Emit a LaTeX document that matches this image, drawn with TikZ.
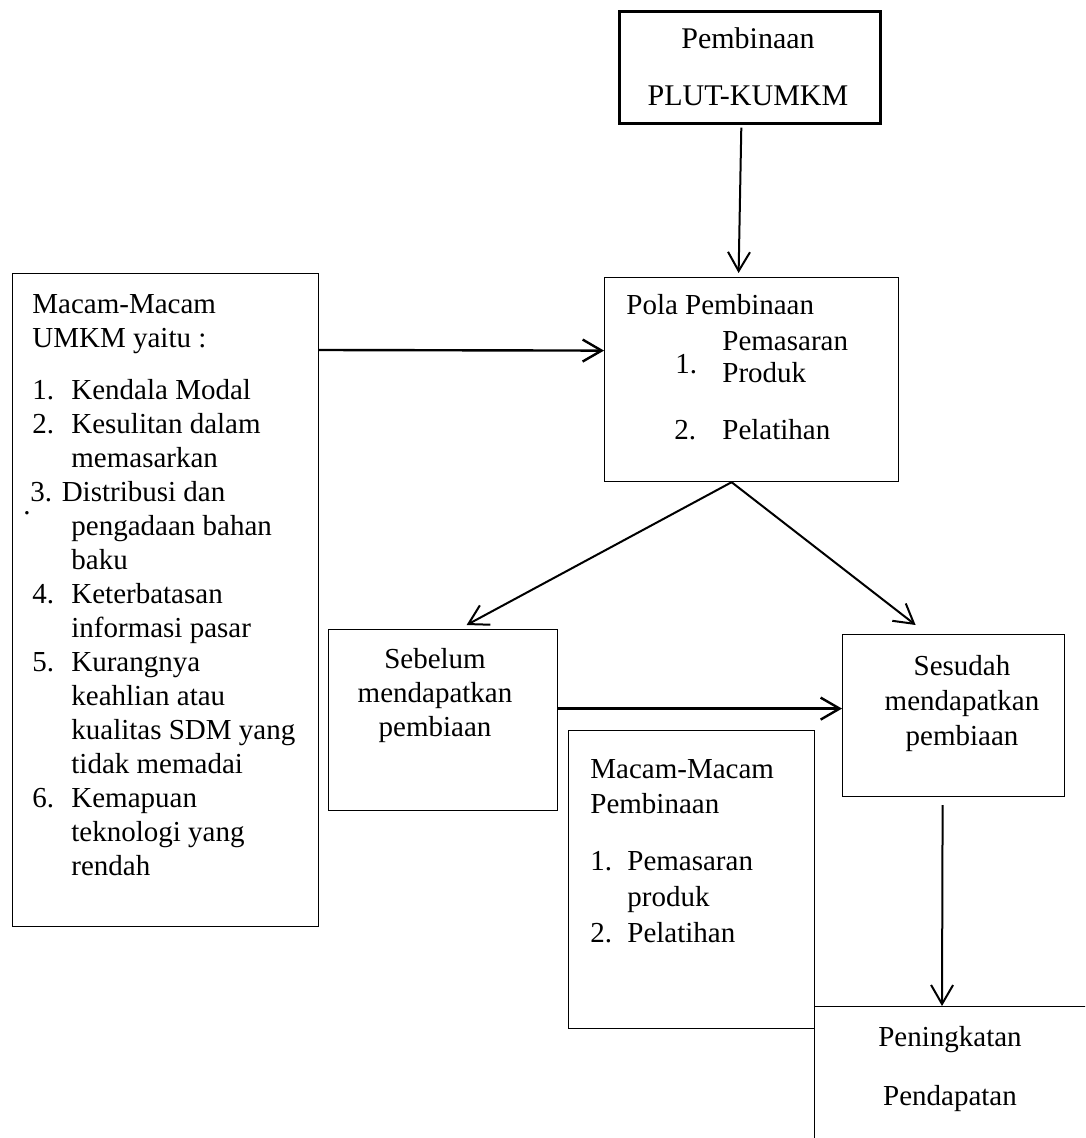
\documentclass[tikz,border=0pt]{standalone}
\usepackage{fontspec}
\setmainfont{Liberation Serif}
\usetikzlibrary{arrows.meta}
\newcommand{\itm}[2][19.5pt]{\makebox[#1][l]{#2}}

\begin{document}
\begin{tikzpicture}[x=0.5pt,y=-0.5pt,>={Straight Barb[length=9.5pt,width=11pt]},
box/.style={draw,line width=.6pt,inner sep=0pt,anchor=north west},
txt/.style={inner sep=0pt,anchor=base west,align=left,font=\fontsize{14.5}{17}\selectfont},
ctxt/.style={txt,anchor=base,align=center},
link/.style={->,line width=1pt}]
\useasboundingbox (0,0) rectangle (1085,1138);
\clip (0,0) rectangle (1085,1138);
% boxes
\node[box,line width=1.3pt,minimum width=130.5pt,minimum height=56pt] (A1) at (618,10) {};
\node[box,minimum width=147pt,minimum height=102pt] (B1) at (604,277) {};
\node[box,minimum width=153pt,minimum height=326.5pt] (C1) at (12,273) {};
\node[box,minimum width=114.5pt,minimum height=90.5pt] (D1) at (328,629) {};
\node[box,minimum width=111pt,minimum height=81pt] (D2) at (842,634) {};
\node[box,minimum width=123pt,minimum height=149pt] (E1) at (568,730) {};
\node[box,minimum width=150pt,minimum height=100pt] (F1) at (814,1006) {};
% texts (base = last line)
\node[ctxt,font=\fontsize{15}{28.5}\selectfont] (A1t) at (748,106) {Pembinaan\\PLUT-KUMKM};
\node[txt] (B1t) at (626,315) {Pola Pembinaan};
\node[txt] (B1n) at (675,373) {1.};
\node[txt,font=\fontsize{14.5}{16.5}\selectfont] (B1a) at (722,383) {Pemasaran\\Produk};
\node[txt] (B1m) at (674,439) {2.};
\node[txt] (B1b) at (722,439) {Pelatihan};
\node[txt] (C1t) at (32,875) {Macam-Macam\\UMKM yaitu :\\[9pt]
  \itm{1.}Kendala Modal\\\itm{2.}Kesulitan dalam\\\itm{}memasarkan\\
  \hspace*{-1pt}3. Distribusi dan\\\itm{}pengadaan bahan\\\itm{}baku\\
  \itm{4.}Keterbatasan\\\itm{}informasi pasar\\\itm{5.}Kurangnya\\
  \itm{}keahlian atau\\\itm{}kualitas SDM yang\\\itm{}tidak memadai\\
  \itm{6.}Kemapuan\\\itm{}teknologi yang\\\itm{}rendah};
\node[txt] (C1d) at (23,514) {.};
\node[ctxt] (D1t) at (435,736) {Sebelum\\mendapatkan\\pembiaan};
\node[ctxt,font=\fontsize{14.5}{17.5}\selectfont] (D2t) at (962,745) {Sesudah\\mendapatkan\\pembiaan};
\node[txt,font=\fontsize{14.5}{17.5}\selectfont] (E1t) at (590,813) {Macam-Macam\\Pembinaan};
\node[txt,font=\fontsize{14.5}{18}\selectfont] (E1l) at (590,942) {\itm[18.5pt]{1.}Pemasaran\\\itm[18.5pt]{}produk\\\itm[18.5pt]{2.}Pelatihan};
\node[ctxt,font=\fontsize{14.5}{29.5}\selectfont] (F1t) at (950,1105) {Peningkatan\\Pendapatan};
% arrows
\draw[link] ([xshift=-4.25pt,yshift=-1.5pt]A1.south) -- ([xshift=-6.5pt,yshift=2pt]B1.north);
\draw[link,line width=1.2pt] ([yshift=-38.5pt]C1.north east) -- ([yshift=14.5pt]B1.west);
\draw[link] ([xshift=-10pt]B1.south) -- ([xshift=11.75pt,yshift=2pt]D1.north);
\draw[link] ([xshift=-10pt]B1.south) -- ([xshift=-19pt,yshift=4.5pt]D2.north);
\draw[link,line width=1.2pt] ([yshift=5.75pt]D1.east) -- ([yshift=3.5pt]D2.west);
\draw[link] ([xshift=-5.5pt,yshift=-4pt]D2.south) -- ([xshift=64pt]F1.north west);
\end{tikzpicture}
\end{document}
